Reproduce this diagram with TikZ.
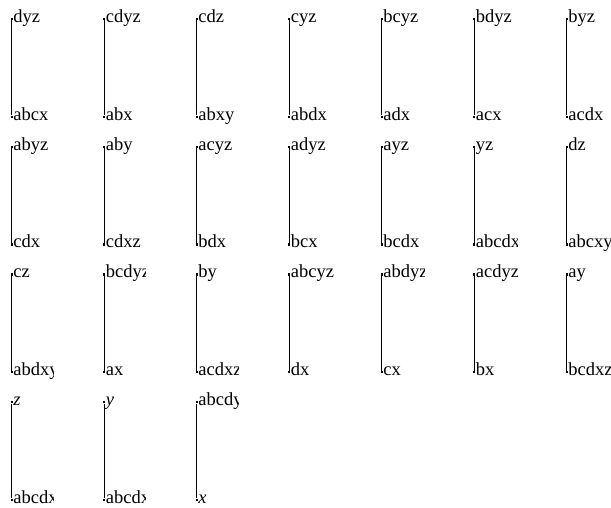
\documentclass[tikz,border=0pt]{standalone}
\usepackage{fontspec}
\setmainfont{Liberation Serif}
\usetikzlibrary{calc}

\begin{document}
\begin{tikzpicture}[x=1pt, y=-1pt,
        dot/.style={rectangle, fill=black, inner sep=0pt, minimum size=2.4pt},
        bar/.style={line width=0.8pt},
        lbl/.style={anchor=base west, inner sep=0pt, font=\fontsize{18.5}{21}\selectfont}]
        \useasboundingbox (0,0) rectangle (611,507);

        % column / row / top label / bottom label / width left for the labels
        \foreach \c/\r/\ltop/\lbot/\w in {
                0/0/dyz/abcx/41.6, 1/0/cdyz/abx/41.5, 2/0/cdz/abxy/42, 3/0/cyz/abdx/45.5,
                4/0/bcyz/adx/42.3, 5/0/bdyz/acx/43.4, 6/0/byz/acdx/50,
                0/1/abyz/cdx/41.6, 1/1/aby/cdxz/41.5, 2/1/acyz/bdx/42, 3/1/adyz/bcx/45.5,
                4/1/ayz/bcdx/42.3, 5/1/yz/abcdx/43.4, 6/1/dz/abcxy/50,
                0/2/cz/abdxy/41.6, 1/2/bcdyz/ax/41.5, 2/2/by/acdxz/42, 3/2/abcyz/dx/45.5,
                4/2/abdyz/cx/42.3, 5/2/acdyz/bx/43.4, 6/2/ay/bcdxz/50,
                0/3/\textit{z}/abcdxy/41.6, 1/3/\textit{y}/abcdxz/41.5, 2/3/abcdyz/\textit{x}/42} {
            \node[dot] (t\c\r) at ({11.7+92.5*\c},{19+127.7*\r}) {};
            \node[dot] (b\c\r) at ({11.7+92.5*\c},{116.7+127.7*\r}) {};
            \draw[bar] (t\c\r) -- (b\c\r);
            % labels are cut off at the cell edge
            \begin{scope}
                \clip ($(t\c\r)+(-3,-16)$) rectangle ($(b\c\r)+(\w,10)$);
                \node[lbl] (tl\c\r) at ($(t\c\r)+(1.5,3.5)$) {\ltop};
                \node[lbl] (bl\c\r) at ($(b\c\r)+(1.5,3.5)$) {\lbot};
            \end{scope}
        }

    \end{tikzpicture}
\end{document}
